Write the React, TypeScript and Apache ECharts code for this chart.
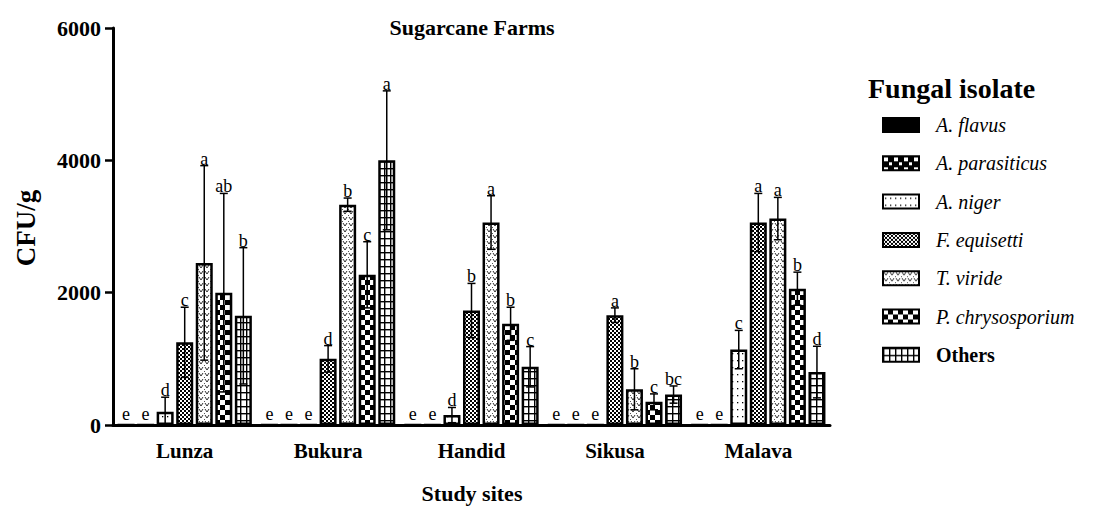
import React, { useEffect, useRef } from "react";
import * as echarts from "echarts";

const sites = ["Lunza", "Bukura", "Handid", "Sikusa", "Malava"];
const isolates = ["A. flavus", "A. parasiticus", "A. niger", "F. equisetti", "T. viride", "P. chrysosporium", "Others"];

const flavus = [0, 0, 0, 0, 0];
const parasiticus = [0, 0, 0, 0, 0];
const niger = [200, 0, 150, 0, 1140];
const equisetti = [1250, 1000, 1730, 1660, 3060];
const viride = [2450, 3330, 3060, 540, 3120];
const chrysosporium = [2000, 2270, 1530, 350, 2060];
const others = [1650, 4000, 880, 460, 800];

const flavusErr = [0, 0, 0, 0, 0];
const parasiticusErr = [0, 0, 0, 0, 0];
const nigerErr = [220, 0, 115, 0, 290];
const equisettiErr = [530, 200, 410, 110, 440];
const virideErr = [1470, 100, 405, 310, 320];
const chrysosporiumErr = [1500, 500, 250, 120, 250];
const othersErr = [1030, 1050, 305, 130, 390];

const flavusLetters = ["e", "e", "e", "e", "e"];
const parasiticusLetters = ["e", "e", "e", "e", "e"];
const nigerLetters = ["d", "e", "d", "e", "c"];
const equisettiLetters = ["c", "d", "b", "a", "a"];
const virideLetters = ["a", "b", "a", "b", "a"];
const chrysosporiumLetters = ["ab", "c", "b", "c", "b"];
const othersLetters = ["b", "a", "c", "bc", "d"];

const values = [flavus, parasiticus, niger, equisetti, viride, chrysosporium, others];
const errors = [flavusErr, parasiticusErr, nigerErr, equisettiErr, virideErr, chrysosporiumErr, othersErr];
const letters = [flavusLetters, parasiticusLetters, nigerLetters, equisettiLetters, virideLetters, chrysosporiumLetters, othersLetters];

const FONT = "'Liberation Serif', 'Times New Roman', serif";
const BAR_W = 17;
const GAP = 0.15;
const PITCH = BAR_W * (1 + GAP);

function tile(w: number, h: number, bg: string, draw: (c: CanvasRenderingContext2D) => void) {
  const cv = document.createElement("canvas");
  cv.width = w;
  cv.height = h;
  const ctx = cv.getContext("2d") as CanvasRenderingContext2D;
  ctx.fillStyle = bg;
  ctx.fillRect(0, 0, w, h);
  ctx.fillStyle = "#000";
  ctx.strokeStyle = "#000";
  draw(ctx);
  return { image: cv.toDataURL(), repeat: "repeat", imageWidth: w, imageHeight: h };
}

function makePatterns() {
  const bigChecker = tile(10, 10, "#000", (c) => {
    c.fillStyle = "#fff";
    c.fillRect(0, 0, 5, 5);
    c.fillRect(5, 5, 5, 5);
  });
  const bigChecker2 = tile(10, 10, "#000", (c) => {
    c.fillStyle = "#fff";
    c.fillRect(1, 1, 4, 4);
    c.fillRect(6, 6, 3, 3);
  });
  const dots = tile(5, 7, "#fff", (c) => {
    c.fillRect(2, 3, 1.3, 1.3);
  });
  const fine = tile(4, 4, "#000", (c) => {
    c.fillStyle = "#fff";
    c.fillRect(0, 0, 2, 2);
    c.fillRect(2, 2, 2, 2);
  });
  const vees = tile(6, 6, "#fff", (c) => {
    c.lineWidth = 1;
    c.strokeStyle = "#333";
    c.beginPath();
    c.moveTo(1, 1);
    c.lineTo(3, 4);
    c.lineTo(5, 1);
    c.stroke();
    c.fillStyle = "#555";
    c.fillRect(0, 5, 1, 1);
  });
  const grid = tile(6, 7, "#fff", (c) => {
    c.fillRect(0, 0, 6, 1.4);
    c.fillRect(0, 0, 1.4, 7);
  });
  return ["#000", bigChecker2, dots, fine, vees, bigChecker, grid];
}

export default function App() {
  const ref = useRef<HTMLDivElement>(null);
  useEffect(() => {
    if (!ref.current) return;
    const chart = echarts.init(ref.current, null, { renderer: "svg" });
    const patterns = makePatterns();

    const rows: { cat: number; s: number; mean: number; err: number; letter: string }[] = [];
    values.forEach((arr, s) => {
      arr.forEach((v, cat) => {
        rows.push({ cat, s, mean: v, err: errors[s][cat], letter: letters[s][cat] });
      });
    });

    const barSeries = isolates.map((name, s) => ({
      name,
      type: "bar",
      data: values[s],
      barWidth: BAR_W,
      barGap: GAP * 100 + "%",
      silent: true,
      itemStyle: { color: patterns[s], borderColor: "#000", borderWidth: 2.5 },
    }));

    const customSeries = {
      type: "custom",
      silent: true,
      z: 10,
      clip: false,
      itemStyle: { color: "#000" },
      data: rows.map((r) => [r.cat, r.mean + r.err]),
      encode: { x: 0, y: 1 },
      renderItem: (params: any, api: any) => {
        const r = rows[params.dataIndex];
        const base = api.coord([r.cat, 0]);
        const x = base[0] + (r.s - 3) * PITCH;
        const children: any[] = [];
        const lineStyle = { stroke: "#000", lineWidth: 1.5 };
        let ty = base[1] - 2;
        if (r.mean > 0) {
          const yt = api.coord([r.cat, r.mean + r.err])[1];
          const yl = api.coord([r.cat, Math.max(r.mean - r.err, 0)])[1];
          children.push({ type: "line", shape: { x1: x, y1: yl, x2: x, y2: yt }, style: lineStyle });
          children.push({ type: "line", shape: { x1: x - 4, y1: yt, x2: x + 4, y2: yt }, style: lineStyle });
          children.push({ type: "line", shape: { x1: x - 4, y1: yl, x2: x + 4, y2: yl }, style: lineStyle });
          ty = yt + 2;
        }
        children.push({
          type: "text",
          x,
          y: ty,
          style: {
            text: r.letter,
            fill: "#000",
            stroke: "#000",
            lineWidth: 0,
            fontSize: 18,
            fontFamily: FONT,
            align: "center",
            verticalAlign: "bottom",
          },
        });
        return { type: "group", children };
      },
    };

    const option: any = {
      animation: false,
      backgroundColor: "#fff",
      grid: { left: 113, right: 267, top: 28, bottom: 81 },
      xAxis: {
        type: "category",
        data: sites,
        axisLine: { lineStyle: { color: "#000", width: 3 } },
        axisTick: { alignWithLabel: true, length: 8, lineStyle: { color: "#000", width: 2.5 } },
        axisLabel: { color: "#000", fontSize: 21, fontWeight: "bold", fontFamily: FONT, margin: 15 },
      },
      yAxis: {
        type: "value",
        min: 0,
        max: 6000,
        interval: 2000,
        axisLine: { show: true, lineStyle: { color: "#000", width: 3 } },
        axisTick: { show: true, length: 8, lineStyle: { color: "#000", width: 2.5 } },
        splitLine: { show: false },
        axisLabel: {
          color: "#000",
          fontSize: 22,
          fontWeight: "bold",
          fontFamily: FONT,
          margin: 12,
          formatter: (v: number) => String(v),
        },
      },
      legend: {
        orient: "vertical",
        left: 877,
        top: 110,
        itemWidth: 36,
        itemHeight: 14,
        itemGap: 18.3,
        selectedMode: false,
        icon: "rect",
        textStyle: {
          color: "#000",
          fontSize: 20,
          fontStyle: "italic",
          fontFamily: FONT,
          lineHeight: 20,
          padding: [0, 0, 0, 12],
        },
        data: isolates.map((n) =>
          n === "Others" ? { name: n, textStyle: { fontStyle: "normal", fontWeight: "bold" } } : { name: n }
        ),
      },
      graphic: [
        {
          type: "text",
          x: 472,
          y: 27,
          style: { text: "Sugarcane Farms", fill: "#000", font: `bold 22px ${FONT}`, textAlign: "center", textVerticalAlign: "middle" },
        },
        {
          type: "text",
          x: 26,
          y: 228,
          rotation: Math.PI / 2,
          style: { text: "CFU/g", fill: "#000", font: `bold 27px ${FONT}`, textAlign: "center", textVerticalAlign: "middle" },
        },
        {
          type: "text",
          x: 472,
          y: 493,
          style: { text: "Study sites", fill: "#000", font: `bold 22px ${FONT}`, textAlign: "center", textVerticalAlign: "middle" },
        },
        {
          type: "text",
          x: 868,
          y: 88,
          style: { text: "Fungal isolate", fill: "#000", font: `bold 28px ${FONT}`, textAlign: "left", textVerticalAlign: "middle" },
        },
      ],
      series: [...barSeries, customSeries],
    };
    chart.setOption(option);
    return () => chart.dispose();
  }, []);
  return <div ref={ref} style={{ position: "fixed", left: 0, top: 0, width: 1097, height: 506, background: "#fff" }} />;
}
